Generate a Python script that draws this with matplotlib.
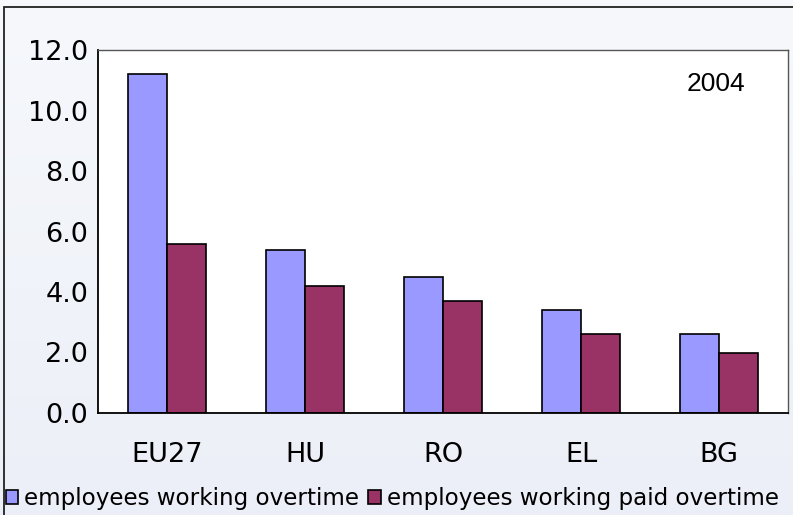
import numpy as np
import matplotlib
matplotlib.use("Agg")
import matplotlib.pyplot as plt
from matplotlib.patches import Rectangle

countries = ["EU27", "HU", "RO", "EL", "BG"]
overtime = [11.2, 5.4, 4.5, 3.4, 2.6]
paid_overtime = [5.6, 4.2, 3.7, 2.6, 2.0]
year_label = "2004"

W, H = 793, 515
fig = plt.figure(figsize=(W / 100, H / 100), dpi=100)

# pale gradient background
grad = np.linspace(0, 1, 256).reshape(-1, 1)
bg = fig.add_axes([0, 0, 1, 1], zorder=-2)
top = np.array([0.965, 0.973, 0.988])
bot = np.array([0.925, 0.937, 0.969])
img = top * (1 - grad[..., None]) + bot * grad[..., None]
bg.imshow(img, aspect="auto", extent=[0, 1, 0, 1])
bg.axis("off")
fig.patches.append(Rectangle((4 / W, -0.1), 1.2, 1 - 7 / H + 0.1, transform=fig.transFigure,
                             fill=False, edgecolor="#222222", linewidth=1.3))

ax = fig.add_axes([98 / W, 1 - 413 / H, 690 / W, 363 / H])
ax.set_facecolor("white")
x = np.arange(len(countries))
bw = 0.28
ax.bar(x - bw / 2, overtime, bw, color="#9999ff", edgecolor="black", linewidth=1.2,
       label="employees working overtime")
ax.bar(x + bw / 2, paid_overtime, bw, color="#993366", edgecolor="black", linewidth=1.2,
       label="employees working paid overtime")

ax.set_xlim(-0.5, len(countries) - 0.5)
ax.set_ylim(0, 12)
ax.set_yticks(np.arange(0, 12.1, 2))
ax.set_yticklabels(["%.1f" % v for v in np.arange(0, 12.1, 2)])
ax.set_xticks(x)
ax.set_xticklabels(countries)
ax.tick_params(length=0, labelsize=19.5)
ax.tick_params(axis="x", pad=21)
ax.tick_params(axis="y", pad=7)
for s in ["left", "bottom"]:
    ax.spines[s].set_linewidth(1.3)
for s in ["top", "right"]:
    ax.spines[s].set_color("#555555")
    ax.spines[s].set_linewidth(1.0)

ax.text(0.938, 0.905, year_label, transform=ax.transAxes, ha="right", va="center",
        fontsize=19, family="Liberation Sans")

fig.legend(loc="lower left", bbox_to_anchor=(0, -0.002), ncol=2, frameon=False,
           fontsize=16.6, handlelength=0.55, handleheight=0.55, handletextpad=0.25,
           columnspacing=0.4, borderaxespad=0, borderpad=0.25)

fig.savefig("out.png", dpi=100)
